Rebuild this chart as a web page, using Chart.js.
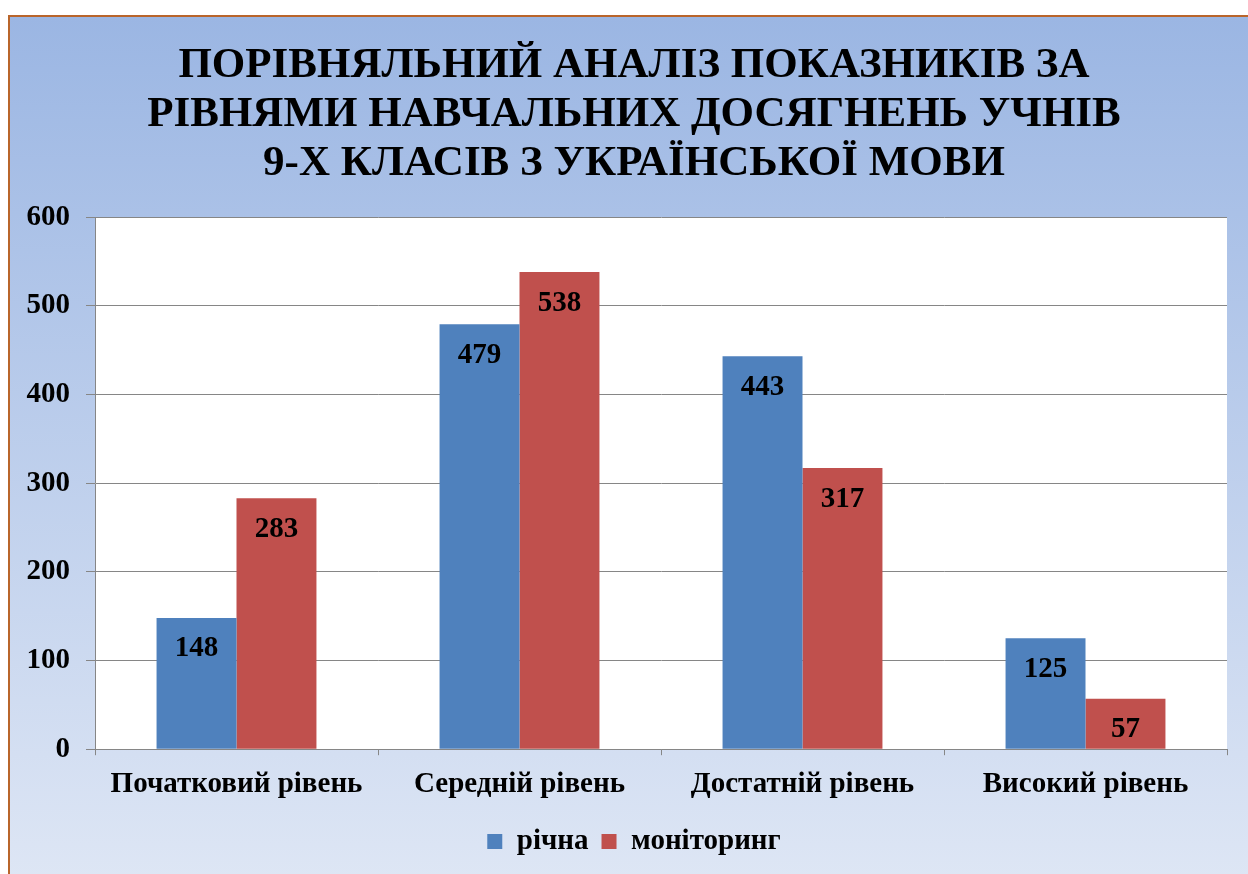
<!DOCTYPE html>
<html lang="uk">
<head>
  <meta charset="UTF-8">
  <title>Порівняльний аналіз</title>
  <script src="https://cdn.jsdelivr.net/npm/chart.js"></script>
  <style>
    html, body { margin: 0; padding: 0; background: #fff; }
    #frame {
      position: absolute; left: 8px; top: 15px; width: 1260px; height: 880px;
      border-left: 2px solid #b9652b; border-top: 2px solid #b9652b;
      background: linear-gradient(to bottom, #9bb6e3 0%, #dfe7f5 100%);
    }
    #wrap { position: absolute; left: 0; top: 0; width: 1248px; height: 874px; }
  </style>
</head>
<body>
  <div id="frame"></div>
  <div id="wrap"><canvas id="chart"></canvas></div>
  <script>
    const titleLines = [
      'ПОРІВНЯЛЬНИЙ АНАЛІЗ ПОКАЗНИКІВ ЗА',
      'РІВНЯМИ НАВЧАЛЬНИХ ДОСЯГНЕНЬ УЧНІВ',
      '9-Х КЛАСІВ З УКРАЇНСЬКОЇ МОВИ'
    ];
    const categories = ['Початковий рівень', 'Середній рівень', 'Достатній рівень', 'Високий рівень'];
    const seriesNames = ['річна', 'моніторинг'];
    const richna = [148, 479, 443, 125];
    const monitoring = [283, 538, 317, 57];

    const serif = "'Liberation Serif', 'Times New Roman', serif";

    const plotBg = {
      id: 'plotBg',
      beforeDraw(chart) {
        const a = chart.chartArea, ctx = chart.ctx;
        ctx.save();
        ctx.fillStyle = '#ffffff';
        ctx.fillRect(a.left, a.top, a.right - a.left, a.bottom - a.top);
        ctx.restore();
      }
    };

    const valueLabels = {
      id: 'valueLabels',
      afterDatasetsDraw(chart) {
        const ctx = chart.ctx;
        ctx.save();
        ctx.font = 'bold 29px ' + serif;
        ctx.fillStyle = '#000';
        ctx.textAlign = 'center';
        ctx.textBaseline = 'middle';
        chart.data.datasets.forEach((ds, i) => {
          chart.getDatasetMeta(i).data.forEach((bar, j) => {
            ctx.fillText(String(ds.data[j]), bar.x, bar.y + 31);
          });
        });
        ctx.restore();
      }
    };

    new Chart(document.getElementById('chart'), {
      type: 'bar',
      data: {
        labels: categories,
        datasets: [
          { label: seriesNames[0], data: richna, backgroundColor: '#4f81bd' },
          { label: seriesNames[1], data: monitoring, backgroundColor: '#c0504d' }
        ]
      },
      options: {
        responsive: true,
        maintainAspectRatio: false,
        animation: false,
        layout: { padding: { left: 20, right: 0, top: 0, bottom: 8 } },
        datasets: { bar: { categoryPercentage: 0.565, barPercentage: 1.0 } },
        plugins: {
          title: {
            display: true,
            text: titleLines,
            color: '#000',
            font: { family: serif, size: 43, weight: 'bold', lineHeight: 1.14 },
            padding: { top: 41, bottom: 29 }
          },
          legend: {
            position: 'bottom',
            labels: {
              color: '#000',
              font: { family: serif, size: 29, weight: 'bold' },
              boxWidth: 15,
              boxHeight: 15,
              padding: 13
            }
          },
          tooltip: { enabled: false }
        },
        scales: {
          x: {
            grid: { drawOnChartArea: false, drawTicks: true, tickLength: 6, color: '#868686' },
            border: { color: '#868686', width: 1 },
            ticks: { color: '#000', padding: 12, font: { family: serif, size: 29, weight: 'bold' } }
          },
          y: {
            min: 0,
            max: 600,
            afterFit(scale) { scale.width = 75; },
            grid: { color: '#868686', tickLength: 9 },
            border: { color: '#868686', width: 1 },
            ticks: { stepSize: 100, color: '#000', padding: 16, font: { family: serif, size: 29, weight: 'bold' } }
          },
          y2: {
            type: 'linear',
            position: 'right',
            afterFit(scale) { scale.width = 21; },
            grid: { display: false },
            border: { display: false },
            ticks: { display: false }
          }
        }
      },
      plugins: [plotBg, valueLabels]
    });
  </script>
</body>
</html>
